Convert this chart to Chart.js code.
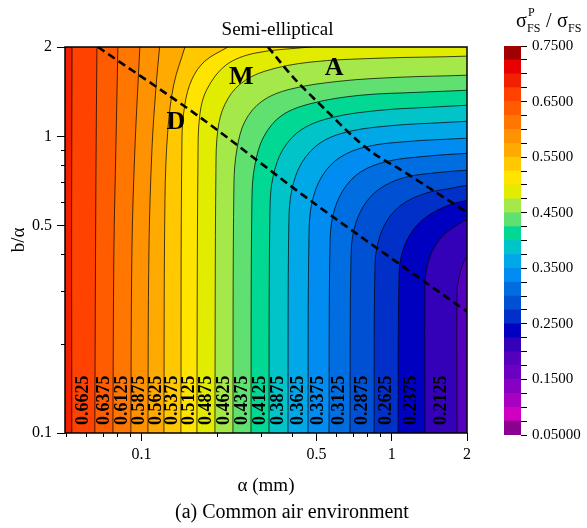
<!DOCTYPE html>
<html>
<head>
<meta charset="utf-8">
<script src="https://cdn.jsdelivr.net/npm/chart.js@4.4.1/dist/chart.umd.min.js"></script>
<style>
  body { margin: 0; background: #fff; }
  #wrap { position: relative; width: 587px; height: 528px; }
  #main { position: absolute; left: 0; top: 0; }
  #bar { position: absolute; left: 470px; top: 0; }
</style>
</head>
<body>
<div id="wrap">
  <canvas id="main" width="587" height="528"></canvas>
  <canvas id="bar" width="117" height="528"></canvas>
</div>
<script>
// contour lines: [alpha (mm), b/alpha]
// (first point sits just under the axis, last point just past the edge)
const c200 = [[1.825,0.08],[1.825,0.1],[1.825,0.2995],[1.858,0.334],[1.911,0.364],[2,0.39],[3.26,0.449]];
const c225 = [[1.359,0.08],[1.359,0.1],[1.359,0.316],[1.384,0.364],[1.463,0.415],[1.604,0.463],[1.792,0.4966],[2,0.5244],[3.26,0.567]];
const c250 = [[1.06,0.08],[1.06,0.1],[1.07,0.342],[1.099,0.4025],[1.184,0.4666],[1.334,0.5244],[1.604,0.5756],[2,0.608],[3.26,0.627]];
const c275 = [[0.85,0.08],[0.85,0.1],[0.857,0.361],[0.8815,0.438],[0.9577,0.52],[1.099,0.589],[1.359,0.642],[1.711,0.667],[2,0.683],[3.26,0.694]];
const c300 = [[0.681,0.08],[0.681,0.1],[0.6875,0.39],[0.7066,0.485],[0.7747,0.585],[0.898,0.667],[1.13,0.727],[1.561,0.756],[2,0.768],[3.26,0.78]];
const c325 = [[0.5613,0.08],[0.5613,0.1],[0.5665,0.428],[0.582,0.541],[0.6385,0.657],[0.747,0.756],[0.9577,0.823],[1.359,0.856],[2,0.876],[3.26,0.89]];
const c350 = [[0.4625,0.08],[0.4625,0.1],[0.467,0.47],[0.48,0.598],[0.526,0.733],[0.621,0.849],[0.804,0.925],[1.184,0.962],[1.634,0.977],[2,0.985],[3.26,1.0]];
const c375 = [[0.3847,0.08],[0.3847,0.1],[0.388,0.516],[0.399,0.662],[0.4377,0.817],[0.5215,0.954],[0.681,1.04],[1.031,1.089],[1.561,1.111],[2,1.124],[3.26,1.15]];
const c400 = [[0.323,0.08],[0.323,0.1],[0.326,0.567],[0.335,0.727],[0.3674,0.904],[0.4377,1.056],[0.582,1.159],[0.898,1.224],[1.423,1.253],[2,1.273],[3.26,1.303]];
const c425 = [[0.2737,0.08],[0.2737,0.1],[0.2762,0.622],[0.284,0.804],[0.3084,1.0],[0.364,1.177],[0.48,1.292],[0.747,1.375],[1.297,1.408],[2,1.43],[3.26,1.464]];
const c450 = [[0.2318,0.08],[0.2318,0.1],[0.234,0.688],[0.2405,0.904],[0.259,1.124],[0.3029,1.313],[0.392,1.441],[0.621,1.534],[1.08,1.582],[2,1.607],[3.26,1.645]];
const c475 = [[0.1964,0.08],[0.1964,0.1],[0.1982,0.774],[0.2019,1.056],[0.2154,1.283],[0.2473,1.498],[0.3113,1.658],[0.471,1.778],[0.898,1.834],[2,1.863],[3.26,1.907]];
const c500 = [[0.1664,0.08],[0.1664,0.1],[0.168,0.836],[0.171,1.187],[0.1825,1.441],[0.2174,1.738],[0.284,1.907],[0.471,2],[0.747,2.09]];
const c525 = [[0.1436,0.08],[0.1436,0.1],[0.145,0.977],[0.149,1.283],[0.159,1.558],[0.179,1.792],[0.2215,2],[0.259,2.16]];
const c550 = [[0.1228,0.08],[0.1228,0.1],[0.124,0.612],[0.1274,1.056],[0.1346,1.5],[0.149,2],[0.156,2.3]];
const c575 = [[0.106,0.08],[0.106,0.1],[0.107,0.415],[0.11,0.904],[0.114,1.44],[0.118,2],[0.121,2.5]];
const c600 = [[0.0906,0.08],[0.0906,0.1],[0.0915,0.415],[0.094,0.904],[0.0984,2],[0.0995,2.5]];
const c625 = [[0.0768,0.08],[0.0768,0.1],[0.0775,0.415],[0.0789,0.904],[0.0804,2],[0.0808,2.5]];
const c650 = [[0.065,0.08],[0.065,0.1],[0.0656,0.61],[0.0663,2],[0.0666,2.5]];
const c675 = [[0.0526,0.08],[0.0526,0.1],[0.0525,0.5],[0.0527,2],[0.0527,2.5]];

const levels = [0.2,0.225,0.25,0.275,0.3,0.325,0.35,0.375,0.4,0.425,0.45,0.475,0.5,0.525,0.55,0.575,0.6,0.625,0.65,0.675];
const contours = [c200,c225,c250,c275,c300,c325,c350,c375,c400,c425,c450,c475,c500,c525,c550,c575,c600,c625,c650,c675];

// labels written in the bands near the bottom
const bandLabels = ['0.2125','0.2375','0.2625','0.2875','0.3125','0.3375','0.3625','0.3875','0.4125','0.4375',
  '0.4625','0.4875','0.5125','0.5375','0.5625','0.5875','0.6125','0.6375','0.6625'];
const bandLabelB = 0.129;

// dashed boundaries
const dashD = [[0.0669,2.0],[0.171,1.16],[0.471,0.609],[2.0,0.2564]];
const dashA = [[0.32,2.0],[0.41,1.558],[0.541,1.234],[0.713,0.985],[0.857,0.869],[1.08,0.774],[1.463,0.657],[2.0,0.554]];
const regionNames = ['D','M','A'];
const regionAlpha = [0.137,0.2506,0.588];
const regionB = [1.115,1.582,1.697];

// colour legend
const bandEdges = [0.05,0.075,0.1,0.125,0.15,0.175,0.2,0.225,0.25,0.275,0.3,0.325,0.35,0.375,0.4,
  0.425,0.45,0.475,0.5,0.525,0.55,0.575,0.6,0.625,0.65,0.675,0.7,0.725,0.75];
const bandColors = ['#8c0090','#d000c0','#a800c0','#8800c0','#6c00c0','#5400bc','#3400b8','#0000c0',
  '#0030c8','#0050d4','#006ee0','#008cf0','#00a8e8','#00c4c8','#00d894','#60e070','#a4e84a','#e2ec00',
  '#ffe400','#ffc800','#ffaa00','#ff9200','#ff7600','#ff5c00','#ff4200','#f02000','#e80000','#a00000'];
const cbLabels = ['0.05000','','','','0.1500','','','','0.2500','','','','0.3500','','','','0.4500',
  '','','','0.5500','','','','0.6500','','','','0.7500'];

// axes
const xTicks = [0.05,0.06,0.07,0.08,0.09,0.1,0.2,0.3,0.4,0.5,0.6,0.7,0.8,0.9,1,2];
const xTickLabels = ['','','','','','0.1','','','','0.5','','','','','1','2'];
const yTicks = [0.1,0.2,0.3,0.4,0.5,0.6,0.7,0.8,0.9,1,2];
const yTickLabels = ['0.1','','','','0.5','','','','','1','2'];

const serif = '"Liberation Serif", "Times New Roman", serif';
const pts = arr => arr.map(p => ({x: p[0], y: p[1]}));

function bandColor(v) {
  return bandColors[Math.round((v - 0.05) / 0.025)];
}

// region above/left of a contour, closed far outside the plot
function regionOf(line) {
  const last = line[line.length - 1];
  const tail = last[0] > 2 ? [[4, 3], [0.03, 3], [0.03, 0.07]] : [[0.03, 3], [0.03, 0.07]];
  return pts(line.concat(tail));
}

const datasets = [];
datasets.push({
  data: pts([[0.03, 0.07], [4, 0.07], [4, 3], [0.03, 3]]),
  showLine: true, fill: 'shape', tension: 0,
  backgroundColor: bandColor(0.175), borderColor: 'rgba(0,0,0,0)', borderWidth: 0, order: 300
});
levels.forEach((lv, i) => {
  datasets.push({
    data: regionOf(contours[i]),
    showLine: true, fill: 'shape', tension: 0.35,
    backgroundColor: bandColor(lv), borderColor: 'rgba(0,0,0,0)', borderWidth: 0, order: 200 - i
  });
  datasets.push({
    data: pts(contours[i]),
    showLine: true, fill: false, tension: 0.35,
    borderColor: 'rgba(0,0,0,0.8)', borderWidth: 0.9, order: 20
  });
});
[dashD, dashA].forEach(d => datasets.push({
  data: pts(d), showLine: true, fill: false, tension: 0.3,
  borderColor: '#000', borderWidth: 2.6, borderDash: [8, 4.5], order: 10
}));

const decor = {
  id: 'decor',
  afterDatasetsDraw(chart) {
    const {ctx, scales: {x, y}} = chart;
    ctx.save();
    ctx.fillStyle = '#000';
    ctx.textAlign = 'center';
    ctx.textBaseline = 'middle';
    ctx.font = 'bold 18px ' + serif;
    bandLabels.forEach((t, k) => {
      const a = Math.sqrt(contours[k][1][0] * contours[k + 1][1][0]);
      ctx.save();
      ctx.translate(x.getPixelForValue(a), y.getPixelForValue(bandLabelB));
      ctx.rotate(-Math.PI / 2);
      ctx.fillText(t, 0, 0);
      ctx.restore();
    });
    ctx.font = 'bold 26px ' + serif;
    regionNames.forEach((t, i) => {
      ctx.fillText(t, x.getPixelForValue(regionAlpha[i]), y.getPixelForValue(regionB[i]));
    });
    ctx.restore();
  },
  afterDraw(chart) {
    const {ctx, chartArea: a, scales: {x, y}} = chart;
    ctx.save();
    ctx.strokeStyle = '#000';
    ctx.lineWidth = 1;
    // minor ticks
    xTicks.forEach((v, i) => {
      if (xTickLabels[i]) return;
      const px = Math.round(x.getPixelForValue(v)) + 0.5;
      ctx.beginPath(); ctx.moveTo(px, a.bottom); ctx.lineTo(px, a.bottom + 4); ctx.stroke();
    });
    yTicks.forEach((v, i) => {
      if (yTickLabels[i]) return;
      const py = Math.round(y.getPixelForValue(v)) + 0.5;
      ctx.beginPath(); ctx.moveTo(a.left, py); ctx.lineTo(a.left - 4, py); ctx.stroke();
    });
    ctx.lineWidth = 1.5;
    ctx.strokeRect(a.left, a.top, a.right - a.left, a.bottom - a.top);

    ctx.fillStyle = '#000';
    ctx.textAlign = 'center';
    ctx.textBaseline = 'alphabetic';
    ctx.font = '19px ' + serif;
    ctx.fillText('Semi-elliptical', 277.5, 35);
    ctx.fillText('\u03b1 (mm)', (a.left + a.right) / 2, 491);
    ctx.font = '20px ' + serif;
    ctx.fillText('(a) Common air environment', 292, 518);
    ctx.save();
    ctx.translate(24, (a.top + a.bottom) / 2);
    ctx.rotate(-Math.PI / 2);
    ctx.font = '19px ' + serif;
    ctx.fillText('b/\u03b1', 0, 0);
    ctx.restore();
    ctx.restore();
  }
};

const tickFont = {family: 'Liberation Serif', size: 16};

new Chart(document.getElementById('main'), {
  type: 'scatter',
  data: {datasets},
  options: {
    responsive: false,
    animation: false,
    devicePixelRatio: 1,
    layout: {padding: {top: 47, right: 120, left: 0, bottom: 0}},
    plugins: {legend: {display: false}, tooltip: {enabled: false}},
    elements: {point: {radius: 0, hoverRadius: 0}},
    scales: {
      x: {
        type: 'logarithmic', min: 0.0494, max: 2,
        afterFit: s => { s.height = 95; },
        afterBuildTicks: s => { s.ticks = xTicks.map(v => ({value: v})); },
        ticks: {autoSkip: false, maxRotation: 0, padding: 4, color: '#000', font: tickFont,
          callback: (v, i) => xTickLabels[i]},
        grid: {drawOnChartArea: false, tickLength: 8,
          tickColor: c => (c.index !== undefined && xTickLabels[c.index]) ? '#000' : 'rgba(0,0,0,0)'},
        border: {display: false}
      },
      y: {
        type: 'logarithmic', min: 0.1, max: 2,
        afterFit: s => { s.width = 65; },
        afterBuildTicks: s => { s.ticks = yTicks.map(v => ({value: v})); },
        ticks: {autoSkip: false, padding: 5, color: '#000', font: tickFont,
          callback: (v, i) => yTickLabels[i]},
        grid: {drawOnChartArea: false, tickLength: 8,
          tickColor: c => (c.index !== undefined && yTickLabels[c.index]) ? '#000' : 'rgba(0,0,0,0)'},
        border: {display: false}
      }
    }
  },
  plugins: [decor]
});

// colour bar
const cbTitle = {
  id: 'cbTitle',
  afterDraw(chart) {
    const ctx = chart.ctx;
    ctx.save();
    ctx.fillStyle = '#000';
    ctx.textBaseline = 'alphabetic';
    ctx.font = '20px ' + serif;
    ctx.fillText('\u03c3', 46, 27);
    ctx.fillText('/', 76, 27);
    ctx.fillText('\u03c3', 87, 27);
    ctx.font = '12px ' + serif;
    ctx.fillText('P', 58, 16);
    ctx.fillText('FS', 57, 32);
    ctx.fillText('FS', 98, 32);
    ctx.restore();
  }
};

const cbSets = bandColors.map((col, i) => ({
  data: [[bandEdges[i], bandEdges[i + 1]]],
  backgroundColor: col, borderWidth: 0, grouped: false,
  barPercentage: 1, categoryPercentage: 1
}));
cbSets.push({
  data: [[bandEdges[0], bandEdges[bandEdges.length - 1]]],
  backgroundColor: 'rgba(0,0,0,0)', borderColor: '#000', borderWidth: 1,
  borderSkipped: false, grouped: false, barPercentage: 1, categoryPercentage: 1
});

new Chart(document.getElementById('bar'), {
  type: 'bar',
  data: {labels: ['s'], datasets: cbSets},
  options: {
    responsive: false,
    animation: false,
    devicePixelRatio: 1,
    layout: {padding: {left: 34, top: 46, bottom: 93, right: 0}},
    plugins: {legend: {display: false}, tooltip: {enabled: false}},
    scales: {
      x: {display: false},
      y: {
        position: 'right', min: 0.05, max: 0.75,
        afterFit: s => { s.width = 66; },
        afterBuildTicks: s => { s.ticks = bandEdges.map(v => ({value: v})); },
        ticks: {autoSkip: false, padding: 5, color: '#000', font: {family: 'Liberation Serif', size: 15},
          callback: (v, i) => cbLabels[i]},
        grid: {drawOnChartArea: false, tickLength: 6, color: '#000'},
        border: {display: false}
      }
    }
  },
  plugins: [cbTitle]
});
</script>
</body>
</html>
